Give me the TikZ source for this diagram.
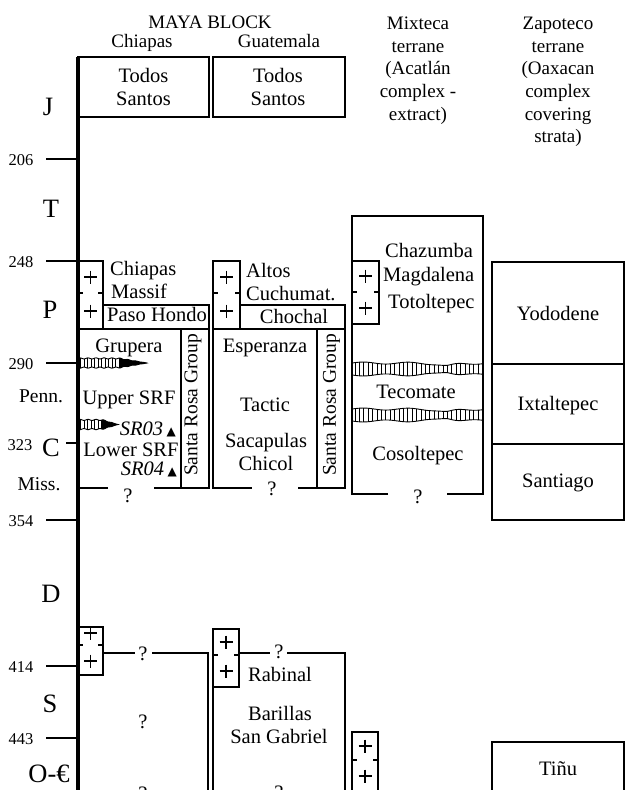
\documentclass[tikz,border=0pt]{standalone}
\usepackage{fontspec}
\setmainfont{Liberation Serif}
\newfontfamily\symfont{DejaVu Sans}
\usetikzlibrary{calc}
\tikzset
{
  unit/.style={draw=black,line width=1.5pt},
  spine/.style={draw=black,line width=3.6pt},
  tick/.style={draw=black,line width=1.3pt},
  plusmark/.style={draw=black,line width=1.3pt},
  hatch/.style={draw=black,line width=0.9pt},
  txt/.style={inner sep=0pt,font=\fontsize{20.5}{23}\selectfont},
  head/.style={inner sep=0pt,align=center,font=\fontsize{19}{22.6}\selectfont},
  period/.style={inner sep=0pt,font=\fontsize{26.5}{28}\selectfont},
  age/.style={inner sep=0pt,font=\fontsize{16.5}{18}\selectfont},
  epoch/.style={inner sep=0pt,font=\fontsize{19.5}{22}\selectfont},
  srg/.style={inner sep=0pt,rotate=90,font=\fontsize{19.5}{22}\selectfont}
}

\begin{document}
\begin{tikzpicture}[x=1pt,y=-1pt,
    declare function={bandh(\xv)=6+1.0*sin(8*(\xv-352))-3/(1+((\xv-447)/9)^2);
                      wedgeh(\xv,\lv)=4.6*min(1,(1-\xv/\lv)/0.4)*(1+0.12*sin(45*\xv));}]

    % Fix the frame
    \path[use as bounding box, clip] (0,0) rectangle (632,790);

    % Column headings
    \node[head, anchor=base] (maya) at (210,28) {MAYA BLOCK};
    \node[head, anchor=base] (chiapas) at (142,47) {Chiapas};
    \node[head, anchor=base] (guate) at (279,47) {Guatemala};
    \node[head, anchor=north] (mixteca) at (418,17) {Mixteca\\terrane\\(Acatlán\\complex -\\extract)};
    \node[head, anchor=north] (zapoteco) at (558,17) {Zapoteco\\terrane\\(Oaxacan\\complex\\covering\\strata)};

    % Draw the time axis
    \draw[spine] (78,57) -- (78,795);

    % Draw the age ticks and labels
    \foreach \yy/\lbl in {159/206, 261/248, 363/290, 520/354, 666/414, 738/443} {
        \draw[tick] (46,\yy) -- (78,\yy);
        \node[age, anchor=base] (age\lbl) at (21,{\yy+6}) {\lbl};
    }
    \draw[tick] (66,443) -- (78,443);
    \node[age, anchor=base] (age323) at (20,450) {323};

    % Periods
    \node[period, anchor=base] (perJ) at (48,115) {J};
    \node[period, anchor=base] (perT) at (51,217) {T};
    \node[period, anchor=base] (perP) at (50,318) {P};
    \node[period, anchor=base] (perC) at (51,456) {C};
    \node[period, anchor=base] (perD) at (51,602) {D};
    \node[period, anchor=base] (perS) at (50,712) {S};
    \node[period, anchor=base] (perO) at (49,782) {O-€};
    \node[epoch, anchor=base] (penn) at (41,402) {Penn.};
    \node[epoch, anchor=base] (miss) at (39,490) {Miss.};

    % Todos Santos
    \draw[unit] (78,57) rectangle (209,117);
    \draw[unit] (213,57) rectangle (345,117);
    \node[txt, align=center, anchor=north] (todos1) at (143.5,68) {Todos\\Santos};
    \node[txt, align=center, anchor=north] (todos2) at (278,68) {Todos\\Santos};

    % Granite boxes: left/top/right/bottom/divider/plus1/plus2
    \foreach \xa/\ya/\xb/\yb/\ym/\pa/\pb in {78/261/103/329/293/277/311, 213/261/240/329/293/277/311,
        352/261/379/324/292/276/308, 78/627/103/675/645/633/661, 213/629/239/687/655/642/671,
        352/732/378/800/760/746/776} {
        \draw[unit] (\xa,\ya) rectangle (\xb,\yb);
        \draw[unit] (\xa,\ym) -- ++(5,0) (\xb,\ym) -- ++(-5,0);
        \pgfmathsetmacro{\cx}{(\xa+\xb)/2}
        \draw[plusmark] ({\cx-6.5},\pa) -- ({\cx+6.5},\pa) (\cx,{\pa-6.5}) -- (\cx,{\pa+6.5});
        \draw[plusmark] ({\cx-6.5},\pb) -- ({\cx+6.5},\pb) (\cx,{\pb-6.5}) -- (\cx,{\pb+6.5});
    }

    % Chiapas column
    \draw[unit] (103,305) rectangle (209,329);
    \draw[unit] (78,329) -- (209,329) -- (209,488) -- (154,488) (108,488) -- (78,488);
    \draw[unit] (181,329) -- (181,488);
    \node[txt, anchor=base west] (chmassif1) at (110,275) {Chiapas};
    \node[txt, anchor=base west] (chmassif2) at (111,298) {Massif};
    \node[txt, anchor=base] (paso) at (157,321) {Paso Hondo};
    \node[txt, anchor=base] (grupera) at (129,352) {Grupera};
    \node[txt, anchor=base] (uppersrf) at (129,404) {Upper SRF};
    \node[txt, anchor=base east] (sr03) at (176,435) {\textit{SR03}\,{\symfont\fontsize{12}{12}\selectfont ▲}};
    \node[txt, anchor=base] (lowersrf) at (131,456) {Lower SRF};
    \node[txt, anchor=base east] (sr04) at (177,475) {\textit{SR04}\,{\symfont\fontsize{12}{12}\selectfont ▲}};
    \node[txt, anchor=base] (chq1) at (128,502) {?};
    \node[srg] (srg1) at (193,405) {Santa Rosa Group};

    % Hatched wedges in the Santa Rosa Formation
    \foreach \yc/\len in {363/69, 424.5/40} {
        \pgfmathsetmacro{\hatchend}{0.6*\len}
        \draw[hatch] plot[domain=0:\len, samples=50, smooth] ({78+\x}, {\yc-wedgeh(\x,\len)})
            -- plot[domain=\len:0, samples=50, smooth] ({78+\x}, {\yc+wedgeh(\x,\len)}) -- cycle;
        \fill plot[domain=\hatchend:\len, samples=20] ({78+\x}, {\yc-wedgeh(\x,\len)})
            -- plot[domain=\len:\hatchend, samples=20] ({78+\x}, {\yc+wedgeh(\x,\len)}) -- cycle;
        \foreach \t in {2.5,6,...,\hatchend}
            \draw[hatch] ({78+\t}, {\yc-wedgeh(\t,\len)}) -- ({78+\t}, {\yc+wedgeh(\t,\len)});
    }

    % Guatemala column
    \draw[unit] (240,305) rectangle (345,329);
    \draw[unit] (213,329) -- (213,488) -- (252,488) (298,488) -- (345,488) -- (345,329) -- (213,329);
    \draw[unit] (317,329) -- (317,488);
    \node[txt, anchor=base west] (altos1) at (246,277) {Altos};
    \node[txt, anchor=base west] (altos2) at (246,300) {Cuchumat.};
    \node[txt, anchor=base] (chochal) at (294,323) {Chochal};
    \node[txt, anchor=base] (esperanza) at (265,352) {Esperanza};
    \node[txt, anchor=base] (tactic) at (265,411) {Tactic};
    \node[txt, anchor=base] (sacapulas) at (266,447) {Sacapulas};
    \node[txt, anchor=base] (chicol) at (266,470) {Chicol};
    \node[txt, anchor=base] (guq1) at (272,495) {?};
    \node[srg] (srg2) at (331.5,405) {Santa Rosa Group};

    % Mixteca column
    \foreach \yc in {369,415} {
        \draw[hatch] plot[domain=352:483, samples=60, smooth] (\x, {\yc-bandh(\x)})
            -- plot[domain=483:352, samples=60, smooth] (\x, {\yc+bandh(\x)}) -- cycle;
        \foreach \xx in {355,359.4,...,481}
            \draw[hatch] (\xx, {\yc-bandh(\xx)}) -- (\xx, {\yc+bandh(\xx)});
    }
    \draw[unit] (388,494) -- (352,494) -- (352,216) -- (483,216) -- (483,494) -- (447,494);
    \node[txt, anchor=base west] (chazumba) at (385,257) {Chazumba};
    \node[txt, anchor=base west] (magdalena) at (383,281) {Magdalena};
    \node[txt, anchor=base west] (totoltepec) at (388,308) {Totoltepec};
    \node[txt, anchor=base] (tecomate) at (416,398) {Tecomate};
    \node[txt, anchor=base] (cosoltepec) at (418,460) {Cosoltepec};
    \node[txt, anchor=base] (miq1) at (418,503) {?};

    % Zapoteco column
    \draw[unit] (492,262) rectangle (624,364);
    \draw[unit] (492,364) rectangle (624,444);
    \draw[unit] (492,444) rectangle (624,520);
    \draw[unit] (492,742) rectangle (624,800);
    \node[txt, anchor=base] (yododene) at (558,320) {Yododene};
    \node[txt, anchor=base] (ixtaltepec) at (558,410) {Ixtaltepec};
    \node[txt, anchor=base] (santiago) at (558,487) {Santiago};
    \node[txt, anchor=base] (tinu) at (558,775) {Tiñu};

    % Lower Palaeozoic
    \draw[unit] (103,653) -- (135,653) (152,653) -- (208,653) -- (208,800);
    \draw[unit] (213,687) -- (213,800);
    \draw[unit] (239,653) -- (270,653) (287,653) -- (345,653) -- (345,800);
    \node[txt, anchor=base] (chq2) at (143,660) {?};
    \node[txt, anchor=base] (chq3) at (143,728) {?};
    \node[txt, anchor=base] (chq4) at (143,800) {?};
    \node[txt, anchor=base] (guq2) at (279,658) {?};
    \node[txt, anchor=base] (rabinal) at (280,681) {Rabinal};
    \node[txt, anchor=base] (barillas) at (280,720) {Barillas};
    \node[txt, anchor=base] (gabriel) at (279,743) {San Gabriel};
    \node[txt, anchor=base] (guq3) at (279,799) {?};

\end{tikzpicture}
\end{document}
